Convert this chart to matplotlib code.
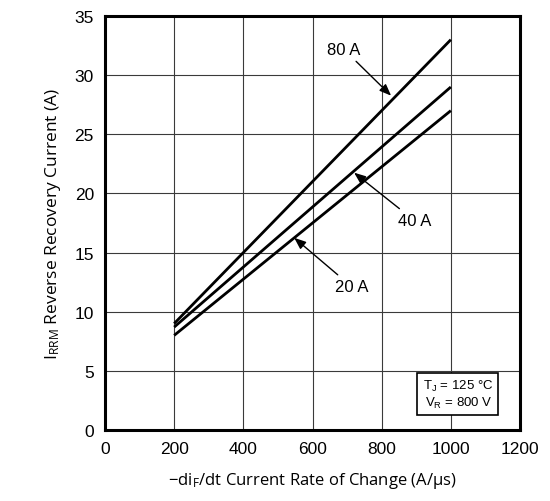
import matplotlib
matplotlib.use("Agg")
import matplotlib.pyplot as plt

x_vals = [200, 1000]
i80 = [9.0, 33.0]
i40 = [8.7, 29.0]
i20 = [8.0, 27.0]
x_ticks = [0, 200, 400, 600, 800, 1000, 1200]
y_ticks = [0, 5, 10, 15, 20, 25, 30, 35]

plt.rcParams['font.family'] = ['Liberation Sans', 'DejaVu Sans']

fig = plt.figure(figsize=(5.5, 5.02), dpi=100)
ax = fig.add_axes([105/550, 1-431/502, 415/550, 414/502])
ax.set_xlim(0, 1200)
ax.set_ylim(0, 35)
ax.set_xticks(x_ticks)
ax.set_yticks(y_ticks)
ax.grid(True, color='#3a3a3a', lw=0.8)
ax.set_axisbelow(True)
ax.tick_params(length=0, labelsize=12.5, pad=8)
for s in ax.spines.values():
    s.set_linewidth(2.2)

for ys in (i80, i40, i20):
    ax.plot(x_vals, ys, color='black', lw=2, solid_capstyle='butt')

ap = dict(arrowstyle='-|>,head_length=0.5,head_width=0.2', color='black', lw=1, mutation_scale=14)
ax.annotate('80 A', xy=(833, 28.1), xytext=(690, 32.2), ha='center', va='center',
            fontsize=12, arrowprops=ap)
ax.annotate('40 A', xy=(714, 21.9), xytext=(895, 17.7), ha='center', va='center',
            fontsize=12, arrowprops=ap)
ax.annotate('20 A', xy=(541, 16.4), xytext=(714, 12.1), ha='center', va='center',
            fontsize=12, arrowprops=ap)

ax.text(0.935, 0.087, '$\\mathregular{T_J}$ = 125 °C\n$\\mathregular{V_R}$ = 800 V',
        transform=ax.transAxes, ha='right', va='center', fontsize=9.5, linespacing=1.1,
        bbox=dict(boxstyle='square,pad=0.4', fc='white', ec='black', lw=1.2))

ax.set_xlabel('−di$\\mathregular{_F}$/dt Current Rate of Change (A/μs)',
              fontsize=12, family=['Open Sans', 'DejaVu Sans'], labelpad=10)
ax.set_ylabel('I$\\mathregular{_{RRM}}$ Reverse Recovery Current (A)',
              fontsize=12.5, family=['Open Sans', 'DejaVu Sans'], labelpad=8)

fig.savefig('out.png', dpi=100)
